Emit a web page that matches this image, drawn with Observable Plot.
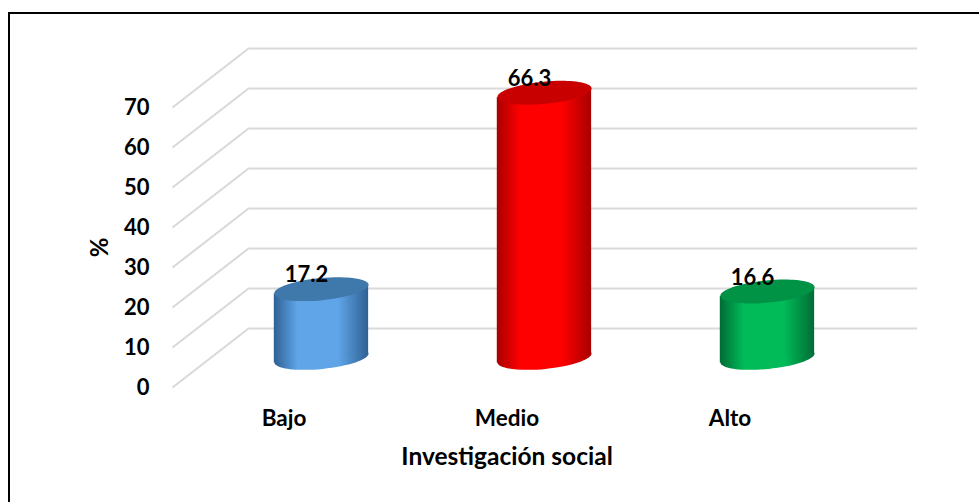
<!DOCTYPE html>
<html>
<head>
<meta charset="utf-8">
<script src="https://cdn.jsdelivr.net/npm/d3@7"></script>
<script src="https://cdn.jsdelivr.net/npm/@observablehq/plot@0.6"></script>
<style>
  html, body { margin: 0; padding: 0; background: #fff; overflow: hidden; width: 979px; height: 502px; }
  #chart { position: relative; width: 979px; height: 502px; overflow: hidden; }
  #chart svg { position: absolute; left: 0; top: 0; max-width: none; }
  #frame { position: absolute; left: 8px; top: 12px; width: 1100px; height: 700px; border: 2px solid #000; pointer-events: none; }
</style>
</head>
<body>
<div id="chart"><div id="frame"></div></div>
<script>
const categories = ["Bajo", "Medio", "Alto"];
const percentages = [17.2, 66.3, 16.6];
const yTicks = [0, 10, 20, 30, 40, 50, 60, 70];
const edgeColors = ["#2f6194", "#a80000", "#006c36"];
const midColors = ["#5fa5e8", "#ff0000", "#00bb58"];
const capColors = ["#3f78ab", "#c80000", "#009245"];

// Depth of the 3D box, in scale units (category index, percent)
const wallDX = 0.341, wallDY = 14.75;
const barDX = 0.168, barDY = 7.4;
const halfBar = 0.2115, tilt = 1.25;
const capRadius = 47.3;

const capSymbol = {
  draw(ctx, size) {
    const rx = Math.sqrt(size / Math.PI), ry = rx * 0.235;
    const a = -5.5 * Math.PI / 180, c = Math.cos(a), s = Math.sin(a), k = 0.5523;
    const p = (u, v) => [u * rx * c - v * ry * s, u * rx * s + v * ry * c];
    ctx.moveTo(...p(1, 0));
    ctx.bezierCurveTo(...p(1, k), ...p(k, 1), ...p(0, 1));
    ctx.bezierCurveTo(...p(-k, 1), ...p(-1, k), ...p(-1, 0));
    ctx.bezierCurveTo(...p(-1, -k), ...p(-k, -1), ...p(0, -1));
    ctx.bezierCurveTo(...p(k, -1), ...p(1, -k), ...p(1, 0));
    ctx.closePath();
  }
};

const bars = categories.map((name, i) => ({name, i, value: percentages[i], cx: i + barDX}));
const font = "Lato, Carlito, sans-serif";
const bold = {fontWeight: 700, fill: "#000", fontFamily: font};

const marks = [
  // back wall grid and side wall diagonals
  Plot.ruleY(yTicks, {y: d => d + wallDY, x1: -0.5 + wallDX, x2: 2.5 + wallDX, stroke: "#d9d9d9", strokeWidth: 2}),
  Plot.link(yTicks, {x1: -0.5, y1: d => d, x2: -0.5 + wallDX, y2: d => d + wallDY, stroke: "#d9d9d9", strokeWidth: 2}),
  // cylinders
  ...bars.flatMap(b => [
    Plot.dot([b], {x: "cx", y: () => barDY, r: capRadius, symbol: capSymbol, fill: `url(#grad${b.i})`}),
    Plot.areaY([-1, 1], {
      x: s => b.cx + s * halfBar,
      y1: s => barDY + s * tilt,
      y2: s => barDY + b.value + s * tilt,
      fill: `url(#grad${b.i})`
    }),
    Plot.dot([b], {x: "cx", y: d => barDY + d.value, r: capRadius, symbol: capSymbol, fill: capColors[b.i]})
  ]),
  // value labels
  Plot.text(bars, {x: "cx", y: d => barDY + d.value, text: d => String(d.value), dx: -15, dy: -14, fontSize: 22, ...bold}),
  // y axis labels
  Plot.text(yTicks, {x: () => -0.5, y: d => d, text: d => String(d), dx: -23, dy: 0, textAnchor: "end", fontSize: 22, ...bold}),
  // category labels
  Plot.text(categories, {x: (d, i) => i, y: () => -7.75, text: d => d, fontSize: 22.5, ...bold}),
  // axis titles
  Plot.text(["Investigación social"], {x: () => 1, y: () => -17.5, text: d => d, fontSize: 24.5, ...bold}),
  Plot.text(["%"], {x: () => -0.5, y: () => 35, text: d => d, dx: -72, rotate: -90, fontSize: 24, ...bold})
];

const plot = Plot.plot({
  width: 979, height: 502,
  marginTop: 0, marginRight: 0, marginBottom: 0, marginLeft: 0,
  x: {type: "linear", domain: [-0.5, 2.5], range: [172, 841], axis: null},
  y: {type: "linear", domain: [0, 70], range: [387, 107], axis: null},
  style: {background: "transparent"},
  marks
});

const ns = "http://www.w3.org/2000/svg";
const defs = document.createElementNS(ns, "defs");
categories.forEach((_, i) => {
  const g = document.createElementNS(ns, "linearGradient");
  g.setAttribute("id", `grad${i}`);
  g.setAttribute("x1", "0"); g.setAttribute("x2", "1"); g.setAttribute("y1", "0"); g.setAttribute("y2", "0");
  [[0, edgeColors[i]], [0.25, midColors[i]], [0.68, midColors[i]], [1, edgeColors[i]]].forEach(([o, c]) => {
    const st = document.createElementNS(ns, "stop");
    st.setAttribute("offset", o); st.setAttribute("stop-color", c);
    g.appendChild(st);
  });
  defs.appendChild(g);
});
plot.insertBefore(defs, plot.firstChild);
document.getElementById("chart").prepend(plot);
</script>
</body>
</html>
